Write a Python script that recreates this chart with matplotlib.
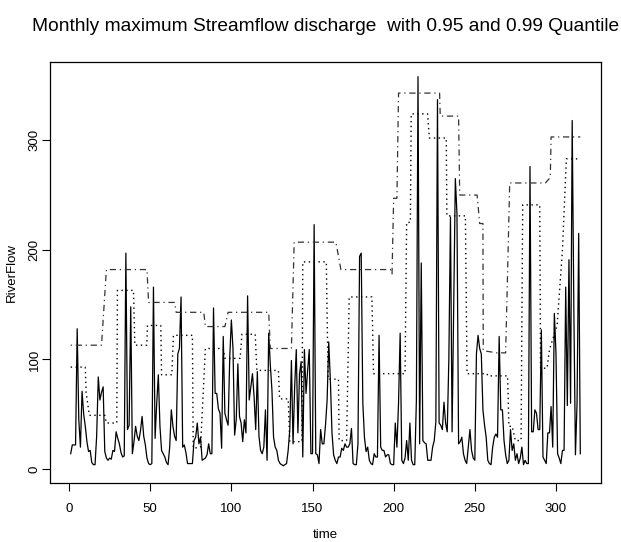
import matplotlib
matplotlib.use("Agg")
import matplotlib.pyplot as plt

# monthly maximum river flow, months 1..315
time = list(range(1, 316))
river_flow = [
    14, 22, 22, 22, 128, 45, 20, 71, 50, 39,
    25, 16, 17, 6, 4, 4, 30, 84, 63, 70,
    75, 16, 10, 8, 10, 9, 17, 16, 34, 28,
    23, 15, 11, 12, 197, 36, 40, 148, 14, 25,
    39, 30, 26, 35, 48, 30, 22, 10, 5, 4,
    5, 166, 28, 60, 86, 39, 17, 14, 11, 6,
    4, 20, 54, 39, 30, 26, 105, 110, 157, 20,
    22, 15, 5, 5, 5, 5, 26, 29, 42, 23,
    29, 8, 9, 10, 13, 23, 14, 14, 147, 69,
    69, 55, 51, 19, 121, 51, 45, 40, 102, 136,
    110, 31, 45, 96, 48, 42, 25, 45, 33, 158,
    63, 75, 87, 66, 36, 89, 30, 17, 14, 20,
    54, 8, 124, 95, 72, 29, 20, 17, 8, 5,
    4, 3, 4, 5, 17, 36, 99, 23, 75, 109,
    33, 87, 98, 11, 109, 69, 90, 109, 14, 14,
    223, 14, 13, 5, 36, 23, 23, 40, 63, 116,
    81, 33, 13, 8, 5, 11, 11, 19, 17, 23,
    20, 20, 23, 37, 5, 4, 4, 23, 194, 197,
    60, 29, 16, 20, 8, 5, 4, 14, 11, 11,
    122, 20, 17, 17, 11, 13, 13, 5, 4, 4,
    42, 20, 60, 124, 8, 5, 10, 26, 8, 42,
    8, 4, 4, 63, 358, 23, 188, 26, 24, 23,
    8, 8, 8, 20, 26, 43, 337, 42, 40, 36,
    61, 42, 34, 100, 230, 34, 150, 265, 233, 23,
    25, 29, 14, 8, 5, 20, 36, 17, 10, 8,
    105, 122, 110, 105, 54, 40, 29, 8, 5, 4,
    20, 29, 32, 29, 121, 54, 54, 26, 13, 5,
    8, 36, 17, 23, 8, 14, 5, 10, 20, 4,
    8, 5, 5, 276, 34, 34, 54, 51, 36, 36,
    127, 11, 8, 5, 33, 33, 57, 20, 142, 106,
    14, 10, 5, 17, 17, 166, 58, 191, 60, 318,
    148, 13, 60, 215, 14,
]

# moving 0.99 quantile (dot-dash), vertices
q99_time = [1, 20, 23, 48, 49, 65, 66, 83, 84, 96, 98, 123, 124, 137, 138.7,
            164.4, 167.5, 198, 199, 200, 202, 203, 228.3, 228.7, 240, 240.7,
            251.4, 253, 255, 255.2, 263.6, 269, 271.5, 293.5, 296.5, 297,
            315]
q99_flow = [113, 113, 182, 182, 152, 152, 143, 143, 130, 130, 143, 143, 110,
            110, 207, 207, 182, 182, 178, 247, 247, 343, 343, 322, 322, 250,
            250, 224, 224, 108, 106, 106, 261, 261, 266, 303, 303]

# moving 0.95 quantile (dotted), vertices
q95_time = [1, 10, 10.5, 12.5, 22, 23, 29.4, 29.8, 39.7, 40.5, 47.9, 48.3,
            56.5, 57, 63.3, 64.3, 73.6, 76, 76.5, 81, 84, 95, 96, 105.4,
            106.5, 114.7, 115.7, 129, 129.7, 135, 136, 143.5, 144, 158.5,
            159.6, 166, 166.4, 171, 172.6, 186.6, 187.6, 207, 208, 210.3,
            210.8, 220.9, 222, 232.4, 232.8, 244.2, 245.2, 257.5, 258, 270.2,
            271, 273, 275, 278.5, 279.5, 290, 290.5, 294.5, 296, 300.7, 304,
            306.4, 315]
q95_flow = [93, 93, 70, 49, 49, 42, 42, 163, 163, 113, 113, 131,
            131, 86, 86, 122, 122, 122, 19, 20, 110, 110, 101, 101,
            123, 123, 90, 90, 64, 64, 25, 25, 189, 189,
            82, 82, 26, 26, 157, 157, 87, 87, 225, 225,
            324, 324, 302, 302, 231, 231, 87, 87, 85, 85,
            39, 39, 26, 26, 241, 241, 92, 92, 109, 131, 200,
            283, 283]

plt.rcParams['font.family'] = ['Liberation Sans', 'DejaVu Sans']

fig = plt.figure(figsize=(6.21, 5.42), dpi=100)
ax = fig.add_axes([0.081, 0.1083, 0.8863, 0.7782])

ax.plot(time, river_flow, color='black', lw=0.9)
ax.plot(q95_time, q95_flow, color='black', lw=1.0, linestyle=(0, (1, 2.5)))
ax.plot(q99_time, q99_flow, color='#333333', lw=0.9,
        linestyle=(0, (1, 3, 5, 3)))

ax.set_xlim(-11.56, 327.56)
ax.set_ylim(-13.0, 371.8)
ax.set_xticks([0, 50, 100, 150, 200, 250, 300])
ax.set_yticks([0, 100, 200, 300])
ax.tick_params(axis='both', direction='out', length=6, width=0.8,
               labelsize=9.5)
ax.tick_params(axis='x', pad=8.5)
ax.tick_params(axis='y', pad=1)
for lab in ax.get_yticklabels():
    lab.set_rotation(90)
    lab.set_va('center')
for s in ax.spines.values():
    s.set_linewidth(0.9)

ax.set_xlabel("time", fontsize=9.5, labelpad=10)
ax.set_ylabel("RiverFlow", fontsize=9.5, labelpad=8)
fig.text(0.524, 1 - 31.0 / 542, "Monthly maximum Streamflow discharge  with 0.95 and 0.99 Quantile",
         ha='center', va='baseline', fontsize=13.8)

fig.savefig("out.png", dpi=100)
